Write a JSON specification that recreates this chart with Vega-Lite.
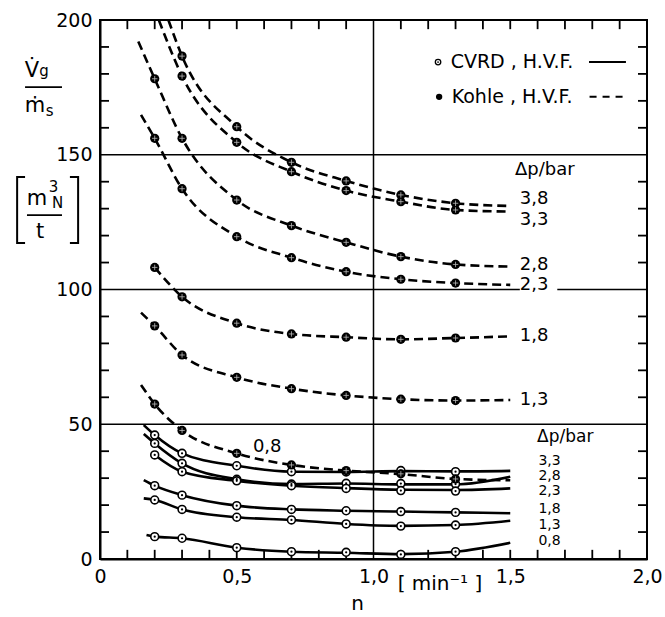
{
  "$schema": "https://vega.github.io/schema/vega-lite/v6.json",
  "width": 547,
  "height": 539,
  "autosize": {"type": "none"},
  "padding": {"left": 100, "top": 20, "right": 18, "bottom": 58},
  "background": "white",
  "config": {
    "view": {"stroke": "black", "strokeWidth": 2},
    "axis": {"labelFont": "DejaVu Sans", "labelFontSize": 19, "labelColor": "black", "domainColor": "black", "domainWidth": 2, "grid": false, "ticks": false, "labelFlush": false, "labelOverlap": false, "labelBound": false},
    "text": {"font": "DejaVu Sans", "color": "black"}
  },
  "datasets": {
    "hgrid": [
      {"x": 0, "x2": 2, "y": 50},
      {"x": 0, "x2": 2, "y": 150},
      {"x": 0, "x2": 1.535, "y": 100},
      {"x": 1.672, "x2": 2, "y": 100}
    ],
    "vgrid": [{"x": 1.0, "y": 0, "y2": 200}],
    "tkbt": [
      {"x": 0.1, "y": 0, "y2": 3.4}, {"x": 0.2, "y": 0, "y2": 3.4}, {"x": 0.3, "y": 0, "y2": 3.4}, {"x": 0.4, "y": 0, "y2": 3.4}, {"x": 0.5, "y": 0, "y2": 3.4}, {"x": 0.6, "y": 0, "y2": 3.4}, {"x": 0.7, "y": 0, "y2": 3.4}, {"x": 0.8, "y": 0, "y2": 3.4}, {"x": 0.9, "y": 0, "y2": 3.4},
      {"x": 1.1, "y": 0, "y2": 3.4}, {"x": 1.2, "y": 0, "y2": 3.4}, {"x": 1.3, "y": 0, "y2": 3.4}, {"x": 1.4, "y": 0, "y2": 3.4}, {"x": 1.5, "y": 0, "y2": 3.4}, {"x": 1.6, "y": 0, "y2": 3.4}, {"x": 1.7, "y": 0, "y2": 3.4}, {"x": 1.8, "y": 0, "y2": 3.4}, {"x": 1.9, "y": 0, "y2": 3.4},
      {"x": 0.1, "y": 196.6, "y2": 200}, {"x": 0.2, "y": 196.6, "y2": 200}, {"x": 0.3, "y": 196.6, "y2": 200}, {"x": 0.4, "y": 196.6, "y2": 200}, {"x": 0.5, "y": 196.6, "y2": 200}, {"x": 0.6, "y": 196.6, "y2": 200}, {"x": 0.7, "y": 196.6, "y2": 200}, {"x": 0.8, "y": 196.6, "y2": 200}, {"x": 0.9, "y": 196.6, "y2": 200},
      {"x": 1.1, "y": 196.6, "y2": 200}, {"x": 1.2, "y": 196.6, "y2": 200}, {"x": 1.3, "y": 196.6, "y2": 200}, {"x": 1.4, "y": 196.6, "y2": 200}, {"x": 1.5, "y": 196.6, "y2": 200}, {"x": 1.6, "y": 196.6, "y2": 200}, {"x": 1.7, "y": 196.6, "y2": 200}, {"x": 1.8, "y": 196.6, "y2": 200}, {"x": 1.9, "y": 196.6, "y2": 200}
    ],
    "tklr": [
      {"y": 10, "x": 0, "x2": 0.033}, {"y": 20, "x": 0, "x2": 0.033}, {"y": 30, "x": 0, "x2": 0.033}, {"y": 40, "x": 0, "x2": 0.033}, {"y": 60, "x": 0, "x2": 0.033}, {"y": 70, "x": 0, "x2": 0.033}, {"y": 80, "x": 0, "x2": 0.033}, {"y": 90, "x": 0, "x2": 0.033},
      {"y": 110, "x": 0, "x2": 0.033}, {"y": 120, "x": 0, "x2": 0.033}, {"y": 130, "x": 0, "x2": 0.033}, {"y": 140, "x": 0, "x2": 0.033}, {"y": 160, "x": 0, "x2": 0.033}, {"y": 170, "x": 0, "x2": 0.033}, {"y": 180, "x": 0, "x2": 0.033}, {"y": 190, "x": 0, "x2": 0.033},
      {"y": 10, "x": 1.967, "x2": 2}, {"y": 20, "x": 1.967, "x2": 2}, {"y": 30, "x": 1.967, "x2": 2}, {"y": 40, "x": 1.967, "x2": 2}, {"y": 60, "x": 1.967, "x2": 2}, {"y": 70, "x": 1.967, "x2": 2}, {"y": 80, "x": 1.967, "x2": 2}, {"y": 90, "x": 1.967, "x2": 2},
      {"y": 110, "x": 1.967, "x2": 2}, {"y": 120, "x": 1.967, "x2": 2}, {"y": 130, "x": 1.967, "x2": 2}, {"y": 140, "x": 1.967, "x2": 2}, {"y": 160, "x": 1.967, "x2": 2}, {"y": 170, "x": 1.967, "x2": 2}, {"y": 180, "x": 1.967, "x2": 2}, {"y": 190, "x": 1.967, "x2": 2}
    ],
    "kl": [
      {"dp": "3,8", "x": 0.25, "y": 200}, {"dp": "3,8", "x": 0.3, "y": 186.6}, {"dp": "3,8", "x": 0.5, "y": 160.4}, {"dp": "3,8", "x": 0.7, "y": 147.2}, {"dp": "3,8", "x": 0.9, "y": 140.3}, {"dp": "3,8", "x": 1.1, "y": 135.1}, {"dp": "3,8", "x": 1.3, "y": 132.0}, {"dp": "3,8", "x": 1.5, "y": 131.0},
      {"dp": "3,3", "x": 0.215, "y": 200}, {"dp": "3,3", "x": 0.3, "y": 179.2}, {"dp": "3,3", "x": 0.5, "y": 154.6}, {"dp": "3,3", "x": 0.7, "y": 143.7}, {"dp": "3,3", "x": 0.9, "y": 136.7}, {"dp": "3,3", "x": 1.1, "y": 132.6}, {"dp": "3,3", "x": 1.3, "y": 129.5}, {"dp": "3,3", "x": 1.5, "y": 128.9},
      {"dp": "2,8", "x": 0.14, "y": 192}, {"dp": "2,8", "x": 0.2, "y": 178.2}, {"dp": "2,8", "x": 0.3, "y": 156.1}, {"dp": "2,8", "x": 0.5, "y": 133.2}, {"dp": "2,8", "x": 0.7, "y": 123.7}, {"dp": "2,8", "x": 0.9, "y": 117.5}, {"dp": "2,8", "x": 1.1, "y": 112.2}, {"dp": "2,8", "x": 1.3, "y": 109.3}, {"dp": "2,8", "x": 1.5, "y": 108.5},
      {"dp": "2,3", "x": 0.15, "y": 164.8}, {"dp": "2,3", "x": 0.2, "y": 156.1}, {"dp": "2,3", "x": 0.3, "y": 137.4}, {"dp": "2,3", "x": 0.5, "y": 119.6}, {"dp": "2,3", "x": 0.7, "y": 111.8}, {"dp": "2,3", "x": 0.9, "y": 106.6}, {"dp": "2,3", "x": 1.1, "y": 103.8}, {"dp": "2,3", "x": 1.3, "y": 102.4}, {"dp": "2,3", "x": 1.5, "y": 101.7},
      {"dp": "1,8", "x": 0.2, "y": 108.2}, {"dp": "1,8", "x": 0.3, "y": 97.3}, {"dp": "1,8", "x": 0.5, "y": 87.5}, {"dp": "1,8", "x": 0.7, "y": 83.5}, {"dp": "1,8", "x": 0.9, "y": 82.3}, {"dp": "1,8", "x": 1.1, "y": 81.5}, {"dp": "1,8", "x": 1.3, "y": 82.0}, {"dp": "1,8", "x": 1.5, "y": 82.6},
      {"dp": "1,3", "x": 0.15, "y": 91.4}, {"dp": "1,3", "x": 0.2, "y": 86.5}, {"dp": "1,3", "x": 0.3, "y": 75.7}, {"dp": "1,3", "x": 0.5, "y": 67.4}, {"dp": "1,3", "x": 0.7, "y": 63.2}, {"dp": "1,3", "x": 0.9, "y": 60.7}, {"dp": "1,3", "x": 1.1, "y": 59.3}, {"dp": "1,3", "x": 1.3, "y": 58.8}, {"dp": "1,3", "x": 1.5, "y": 59.0},
      {"dp": "0,8", "x": 0.15, "y": 64.6}, {"dp": "0,8", "x": 0.2, "y": 57.5}, {"dp": "0,8", "x": 0.3, "y": 47.7}, {"dp": "0,8", "x": 0.5, "y": 39.2}, {"dp": "0,8", "x": 0.7, "y": 34.9}, {"dp": "0,8", "x": 0.9, "y": 32.8}, {"dp": "0,8", "x": 1.1, "y": 31.5}, {"dp": "0,8", "x": 1.3, "y": 29.7}, {"dp": "0,8", "x": 1.5, "y": 29.2}
    ],
    "kp": [
      {"dp": "3,8", "x": 0.3, "y": 186.6}, {"dp": "3,8", "x": 0.5, "y": 160.4}, {"dp": "3,8", "x": 0.7, "y": 147.2}, {"dp": "3,8", "x": 0.9, "y": 140.3}, {"dp": "3,8", "x": 1.1, "y": 135.1}, {"dp": "3,8", "x": 1.3, "y": 132.0},
      {"dp": "3,3", "x": 0.3, "y": 179.2}, {"dp": "3,3", "x": 0.5, "y": 154.6}, {"dp": "3,3", "x": 0.7, "y": 143.7}, {"dp": "3,3", "x": 0.9, "y": 136.7}, {"dp": "3,3", "x": 1.1, "y": 132.6}, {"dp": "3,3", "x": 1.3, "y": 129.5},
      {"dp": "2,8", "x": 0.2, "y": 178.2}, {"dp": "2,8", "x": 0.3, "y": 156.1}, {"dp": "2,8", "x": 0.5, "y": 133.2}, {"dp": "2,8", "x": 0.7, "y": 123.7}, {"dp": "2,8", "x": 0.9, "y": 117.5}, {"dp": "2,8", "x": 1.1, "y": 112.2}, {"dp": "2,8", "x": 1.3, "y": 109.3},
      {"dp": "2,3", "x": 0.2, "y": 156.1}, {"dp": "2,3", "x": 0.3, "y": 137.4}, {"dp": "2,3", "x": 0.5, "y": 119.6}, {"dp": "2,3", "x": 0.7, "y": 111.8}, {"dp": "2,3", "x": 0.9, "y": 106.6}, {"dp": "2,3", "x": 1.1, "y": 103.8}, {"dp": "2,3", "x": 1.3, "y": 102.4},
      {"dp": "1,8", "x": 0.2, "y": 108.2}, {"dp": "1,8", "x": 0.3, "y": 97.3}, {"dp": "1,8", "x": 0.5, "y": 87.5}, {"dp": "1,8", "x": 0.7, "y": 83.5}, {"dp": "1,8", "x": 0.9, "y": 82.3}, {"dp": "1,8", "x": 1.1, "y": 81.5}, {"dp": "1,8", "x": 1.3, "y": 82.0},
      {"dp": "1,3", "x": 0.2, "y": 86.5}, {"dp": "1,3", "x": 0.3, "y": 75.7}, {"dp": "1,3", "x": 0.5, "y": 67.4}, {"dp": "1,3", "x": 0.7, "y": 63.2}, {"dp": "1,3", "x": 0.9, "y": 60.7}, {"dp": "1,3", "x": 1.1, "y": 59.3}, {"dp": "1,3", "x": 1.3, "y": 58.8},
      {"dp": "0,8", "x": 0.2, "y": 57.5}, {"dp": "0,8", "x": 0.3, "y": 47.7}, {"dp": "0,8", "x": 0.5, "y": 39.2}, {"dp": "0,8", "x": 0.7, "y": 34.9}, {"dp": "0,8", "x": 0.9, "y": 32.8}, {"dp": "0,8", "x": 1.1, "y": 31.6}, {"dp": "0,8", "x": 1.3, "y": 29.7}
    ],
    "cl": [
      {"dp": "3,3", "x": 0.16, "y": 49.7}, {"dp": "3,3", "x": 0.2, "y": 46.0}, {"dp": "3,3", "x": 0.3, "y": 39.2}, {"dp": "3,3", "x": 0.5, "y": 34.6}, {"dp": "3,3", "x": 0.7, "y": 32.4}, {"dp": "3,3", "x": 0.9, "y": 32.3}, {"dp": "3,3", "x": 1.1, "y": 32.6}, {"dp": "3,3", "x": 1.3, "y": 32.5}, {"dp": "3,3", "x": 1.5, "y": 32.7},
      {"dp": "2,8", "x": 0.16, "y": 46.4}, {"dp": "2,8", "x": 0.2, "y": 42.9}, {"dp": "2,8", "x": 0.3, "y": 35.5}, {"dp": "2,8", "x": 0.5, "y": 29.6}, {"dp": "2,8", "x": 0.7, "y": 27.8}, {"dp": "2,8", "x": 0.9, "y": 28.0}, {"dp": "2,8", "x": 1.1, "y": 27.7}, {"dp": "2,8", "x": 1.3, "y": 27.7}, {"dp": "2,8", "x": 1.5, "y": 30.5},
      {"dp": "2,3", "x": 0.2, "y": 38.6}, {"dp": "2,3", "x": 0.3, "y": 32.4}, {"dp": "2,3", "x": 0.5, "y": 29.0}, {"dp": "2,3", "x": 0.7, "y": 27.2}, {"dp": "2,3", "x": 0.9, "y": 26.3}, {"dp": "2,3", "x": 1.1, "y": 25.7}, {"dp": "2,3", "x": 1.3, "y": 25.6}, {"dp": "2,3", "x": 1.5, "y": 26.2},
      {"dp": "1,8", "x": 0.16, "y": 29.3}, {"dp": "1,8", "x": 0.2, "y": 27.2}, {"dp": "1,8", "x": 0.3, "y": 23.7}, {"dp": "1,8", "x": 0.5, "y": 19.8}, {"dp": "1,8", "x": 0.7, "y": 18.4}, {"dp": "1,8", "x": 0.9, "y": 17.9}, {"dp": "1,8", "x": 1.1, "y": 17.6}, {"dp": "1,8", "x": 1.3, "y": 17.3}, {"dp": "1,8", "x": 1.5, "y": 17.0},
      {"dp": "1,3", "x": 0.16, "y": 22.5}, {"dp": "1,3", "x": 0.2, "y": 21.9}, {"dp": "1,3", "x": 0.3, "y": 18.4}, {"dp": "1,3", "x": 0.5, "y": 15.5}, {"dp": "1,3", "x": 0.7, "y": 14.5}, {"dp": "1,3", "x": 0.9, "y": 13.0}, {"dp": "1,3", "x": 1.1, "y": 12.3}, {"dp": "1,3", "x": 1.3, "y": 12.6}, {"dp": "1,3", "x": 1.5, "y": 14.2},
      {"dp": "0,8", "x": 0.17, "y": 8.9}, {"dp": "0,8", "x": 0.2, "y": 8.3}, {"dp": "0,8", "x": 0.3, "y": 7.7}, {"dp": "0,8", "x": 0.5, "y": 4.2}, {"dp": "0,8", "x": 0.7, "y": 2.7}, {"dp": "0,8", "x": 0.9, "y": 2.3}, {"dp": "0,8", "x": 1.1, "y": 1.8}, {"dp": "0,8", "x": 1.3, "y": 2.7}, {"dp": "0,8", "x": 1.5, "y": 6.0}
    ],
    "cp": [
      {"dp": "3,3", "x": 0.2, "y": 46.0}, {"dp": "3,3", "x": 0.3, "y": 39.2}, {"dp": "3,3", "x": 0.5, "y": 34.6}, {"dp": "3,3", "x": 0.7, "y": 32.4}, {"dp": "3,3", "x": 0.9, "y": 32.3}, {"dp": "3,3", "x": 1.1, "y": 32.8}, {"dp": "3,3", "x": 1.3, "y": 32.4},
      {"dp": "2,8", "x": 0.2, "y": 42.9}, {"dp": "2,8", "x": 0.3, "y": 35.5}, {"dp": "2,8", "x": 0.5, "y": 29.6}, {"dp": "2,8", "x": 0.7, "y": 27.8}, {"dp": "2,8", "x": 0.9, "y": 28.1}, {"dp": "2,8", "x": 1.1, "y": 28.0}, {"dp": "2,8", "x": 1.3, "y": 27.8},
      {"dp": "2,3", "x": 0.2, "y": 38.6}, {"dp": "2,3", "x": 0.3, "y": 32.4}, {"dp": "2,3", "x": 0.5, "y": 29.0}, {"dp": "2,3", "x": 0.7, "y": 27.2}, {"dp": "2,3", "x": 0.9, "y": 26.2}, {"dp": "2,3", "x": 1.1, "y": 25.4}, {"dp": "2,3", "x": 1.3, "y": 25.2},
      {"dp": "1,8", "x": 0.2, "y": 27.2}, {"dp": "1,8", "x": 0.3, "y": 23.7}, {"dp": "1,8", "x": 0.5, "y": 19.8}, {"dp": "1,8", "x": 0.7, "y": 18.4}, {"dp": "1,8", "x": 0.9, "y": 17.9}, {"dp": "1,8", "x": 1.1, "y": 17.6}, {"dp": "1,8", "x": 1.3, "y": 17.3},
      {"dp": "1,3", "x": 0.2, "y": 21.9}, {"dp": "1,3", "x": 0.3, "y": 18.4}, {"dp": "1,3", "x": 0.5, "y": 15.5}, {"dp": "1,3", "x": 0.7, "y": 14.5}, {"dp": "1,3", "x": 0.9, "y": 13.0}, {"dp": "1,3", "x": 1.1, "y": 12.2}, {"dp": "1,3", "x": 1.3, "y": 12.6},
      {"dp": "0,8", "x": 0.2, "y": 8.3}, {"dp": "0,8", "x": 0.3, "y": 7.7}, {"dp": "0,8", "x": 0.5, "y": 4.2}, {"dp": "0,8", "x": 0.7, "y": 2.7}, {"dp": "0,8", "x": 0.9, "y": 2.5}, {"dp": "0,8", "x": 1.1, "y": 1.7}, {"dp": "0,8", "x": 1.3, "y": 2.7}
    ],
    "rl1": [
      {"x": 1.517, "y": 144.3, "t": "Δp/bar"},
      {"x": 1.535, "y": 133.6, "t": "3,8"},
      {"x": 1.535, "y": 125.8, "t": "3,3"},
      {"x": 1.535, "y": 109.1, "t": "2,8"},
      {"x": 1.535, "y": 101.5, "t": "2,3"},
      {"x": 1.535, "y": 82.6, "t": "1,8"},
      {"x": 1.535, "y": 59.0, "t": "1,3"},
      {"x": 0.559, "y": 41.7, "t": "0,8"}
    ],
    "rl2": [
      {"x": 1.603, "y": 36.4, "t": "3,3"},
      {"x": 1.603, "y": 30.9, "t": "2,8"},
      {"x": 1.603, "y": 25.4, "t": "2,3"},
      {"x": 1.603, "y": 18.7, "t": "1,8"},
      {"x": 1.603, "y": 12.6, "t": "1,3"},
      {"x": 1.603, "y": 6.7, "t": "0,8"}
    ],
    "rl3": [
      {"x": 1.598, "y": 45.1, "t": "Δp/bar"}
    ],
    "legtext": [
      {"x": 1.282, "y": 184.4, "t": "CVRD , H.V.F."},
      {"x": 1.286, "y": 171.5, "t": "Kohle , H.V.F."}
    ],
    "legc": [{"x": 1.236, "y": 184.4}],
    "legk": [{"x": 1.24, "y": 171.5}],
    "legsolid": [{"x": 1.788, "x2": 1.923, "y": 184.4}],
    "legdash": [{"x": 1.79, "x2": 1.923, "y": 171.5}],
    "ytbig": [
      {"x": -0.249, "y": 178.8, "t": "V\u0307"},
      {"x": -0.238, "y": 165.7, "t": "\u1e41"},
      {"x": -0.230, "y": 131.4, "t": "m"},
      {"x": -0.219, "y": 119.1, "t": "t"}
    ],
    "ytsmall": [
      {"x": -0.205, "y": 179.2, "t": "g"},
      {"x": -0.184, "y": 164.4, "t": "s"},
      {"x": -0.170, "y": 136.2, "t": "3"},
      {"x": -0.155, "y": 130.2, "t": "N"}
    ],
    "fb": [
      {"x": -0.274, "x2": -0.139, "y": 175.1},
      {"x": -0.267, "x2": -0.139, "y": 127.6}
    ],
    "brk": [
      {"g": "L", "o": 1, "x": -0.274, "y": 141.7}, {"g": "L", "o": 2, "x": -0.303, "y": 141.7}, {"g": "L", "o": 3, "x": -0.303, "y": 117.3}, {"g": "L", "o": 4, "x": -0.274, "y": 117.3},
      {"g": "R", "o": 1, "x": -0.110, "y": 141.7}, {"g": "R", "o": 2, "x": -0.080, "y": 141.7}, {"g": "R", "o": 3, "x": -0.080, "y": 117.3}, {"g": "R", "o": 4, "x": -0.110, "y": 117.3}
    ],
    "xt": [
      {"x": 0.9415, "y": -18.9, "t": "n"},
      {"x": 1.243, "y": -11.5, "t": "[ min\u207b\u00b9 ]"}
    ]
  },
  "encoding": {
    "x": {"field": "x", "type": "quantitative", "scale": {"domain": [0, 2], "nice": false, "zero": false},
      "axis": {"orient": "bottom", "title": null, "values": [0, 0.5, 1.0, 1.5, 2.0], "labelPadding": 8,
        "labelExpr": "datum.value==0 ? '0' : replace(format(datum.value,'.1f'),'.',',')"}},
    "y": {"field": "y", "type": "quantitative", "scale": {"domain": [0, 200], "nice": false, "zero": false},
      "axis": {"orient": "left", "title": null, "values": [0, 50, 100, 150, 200], "labelPadding": 8, "format": "d"}}
  },
  "layer": [
    {
      "data": {"name": "hgrid"},
      "mark": {"type": "rule", "color": "black", "strokeWidth": 1.5},
      "encoding": {"x2": {"field": "x2"}}
    },
    {
      "data": {"name": "vgrid"},
      "mark": {"type": "rule", "color": "black", "strokeWidth": 1.5},
      "encoding": {"y2": {"field": "y2"}}
    },
    {
      "data": {"name": "tkbt"},
      "mark": {"type": "rule", "color": "black", "strokeWidth": 1.8},
      "encoding": {"y2": {"field": "y2"}}
    },
    {
      "data": {"name": "tklr"},
      "mark": {"type": "rule", "color": "black", "strokeWidth": 1.8},
      "encoding": {"x2": {"field": "x2"}}
    },
    {
      "data": {"name": "cl"},
      "mark": {"type": "line", "color": "black", "strokeWidth": 2.6, "interpolate": "monotone", "clip": true},
      "encoding": {"detail": {"field": "dp"}}
    },
    {
      "data": {"name": "kl"},
      "mark": {"type": "line", "color": "black", "strokeWidth": 2.6, "strokeDash": [9, 5], "interpolate": "monotone", "clip": true},
      "encoding": {"detail": {"field": "dp"}}
    },
    {
      "data": {"name": "cp"},
      "mark": {"type": "point", "shape": "circle", "filled": true, "fill": "white", "stroke": "black", "strokeWidth": 1.6, "size": 62, "opacity": 1},
      "encoding": {}
    },
    {
      "data": {"name": "cp"},
      "mark": {"type": "point", "shape": "circle", "filled": true, "color": "black", "size": 5, "opacity": 1},
      "encoding": {}
    },
    {
      "data": {"name": "kp"},
      "mark": {"type": "point", "shape": "circle", "filled": true, "color": "black", "size": 85, "opacity": 1},
      "encoding": {}
    },
    {
      "data": {"name": "kp"},
      "mark": {"type": "point", "shape": "M-1,0L1,0M0,-1L0,1", "filled": false, "stroke": "#bbbbbb", "strokeWidth": 0.8, "size": 30, "opacity": 1},
      "encoding": {}
    },
    {
      "data": {"name": "rl1"},
      "mark": {"type": "text", "fontSize": 18, "align": "left", "baseline": "middle"},
      "encoding": {"text": {"field": "t"}}
    },
    {
      "data": {"name": "rl2"},
      "mark": {"type": "text", "fontSize": 14, "align": "left", "baseline": "middle"},
      "encoding": {"text": {"field": "t"}}
    },
    {
      "data": {"name": "rl3"},
      "mark": {"type": "text", "fontSize": 17, "align": "left", "baseline": "middle"},
      "encoding": {"text": {"field": "t"}}
    },
    {
      "data": {"name": "legtext"},
      "mark": {"type": "text", "fontSize": 19, "align": "left", "baseline": "middle"},
      "encoding": {"text": {"field": "t"}}
    },
    {
      "data": {"name": "legc"},
      "mark": {"type": "point", "shape": "circle", "filled": false, "stroke": "black", "strokeWidth": 1.3, "size": 30, "opacity": 1},
      "encoding": {}
    },
    {
      "data": {"name": "legc"},
      "mark": {"type": "point", "shape": "circle", "filled": true, "color": "black", "size": 3, "opacity": 1},
      "encoding": {}
    },
    {
      "data": {"name": "legk"},
      "mark": {"type": "point", "shape": "circle", "filled": true, "color": "black", "size": 40, "opacity": 1},
      "encoding": {}
    },
    {
      "data": {"name": "legsolid"},
      "mark": {"type": "rule", "color": "black", "strokeWidth": 2},
      "encoding": {"x2": {"field": "x2"}}
    },
    {
      "data": {"name": "legdash"},
      "mark": {"type": "rule", "color": "black", "strokeWidth": 2, "strokeDash": [7, 6]},
      "encoding": {"x2": {"field": "x2"}}
    },
    {
      "data": {"name": "ytbig"},
      "mark": {"type": "text", "fontSize": 21, "align": "center", "baseline": "alphabetic"},
      "encoding": {"text": {"field": "t"}}
    },
    {
      "data": {"name": "ytsmall"},
      "mark": {"type": "text", "fontSize": 15, "align": "center", "baseline": "alphabetic"},
      "encoding": {"text": {"field": "t"}}
    },
    {
      "data": {"name": "fb"},
      "mark": {"type": "rule", "color": "black", "strokeWidth": 1.8},
      "encoding": {"x2": {"field": "x2"}}
    },
    {
      "data": {"name": "brk"},
      "mark": {"type": "line", "color": "black", "strokeWidth": 2},
      "encoding": {"detail": {"field": "g"}, "order": {"field": "o"}}
    },
    {
      "data": {"name": "xt"},
      "mark": {"type": "text", "fontSize": 20, "align": "center", "baseline": "alphabetic"},
      "encoding": {"text": {"field": "t"}}
    }
  ]
}
